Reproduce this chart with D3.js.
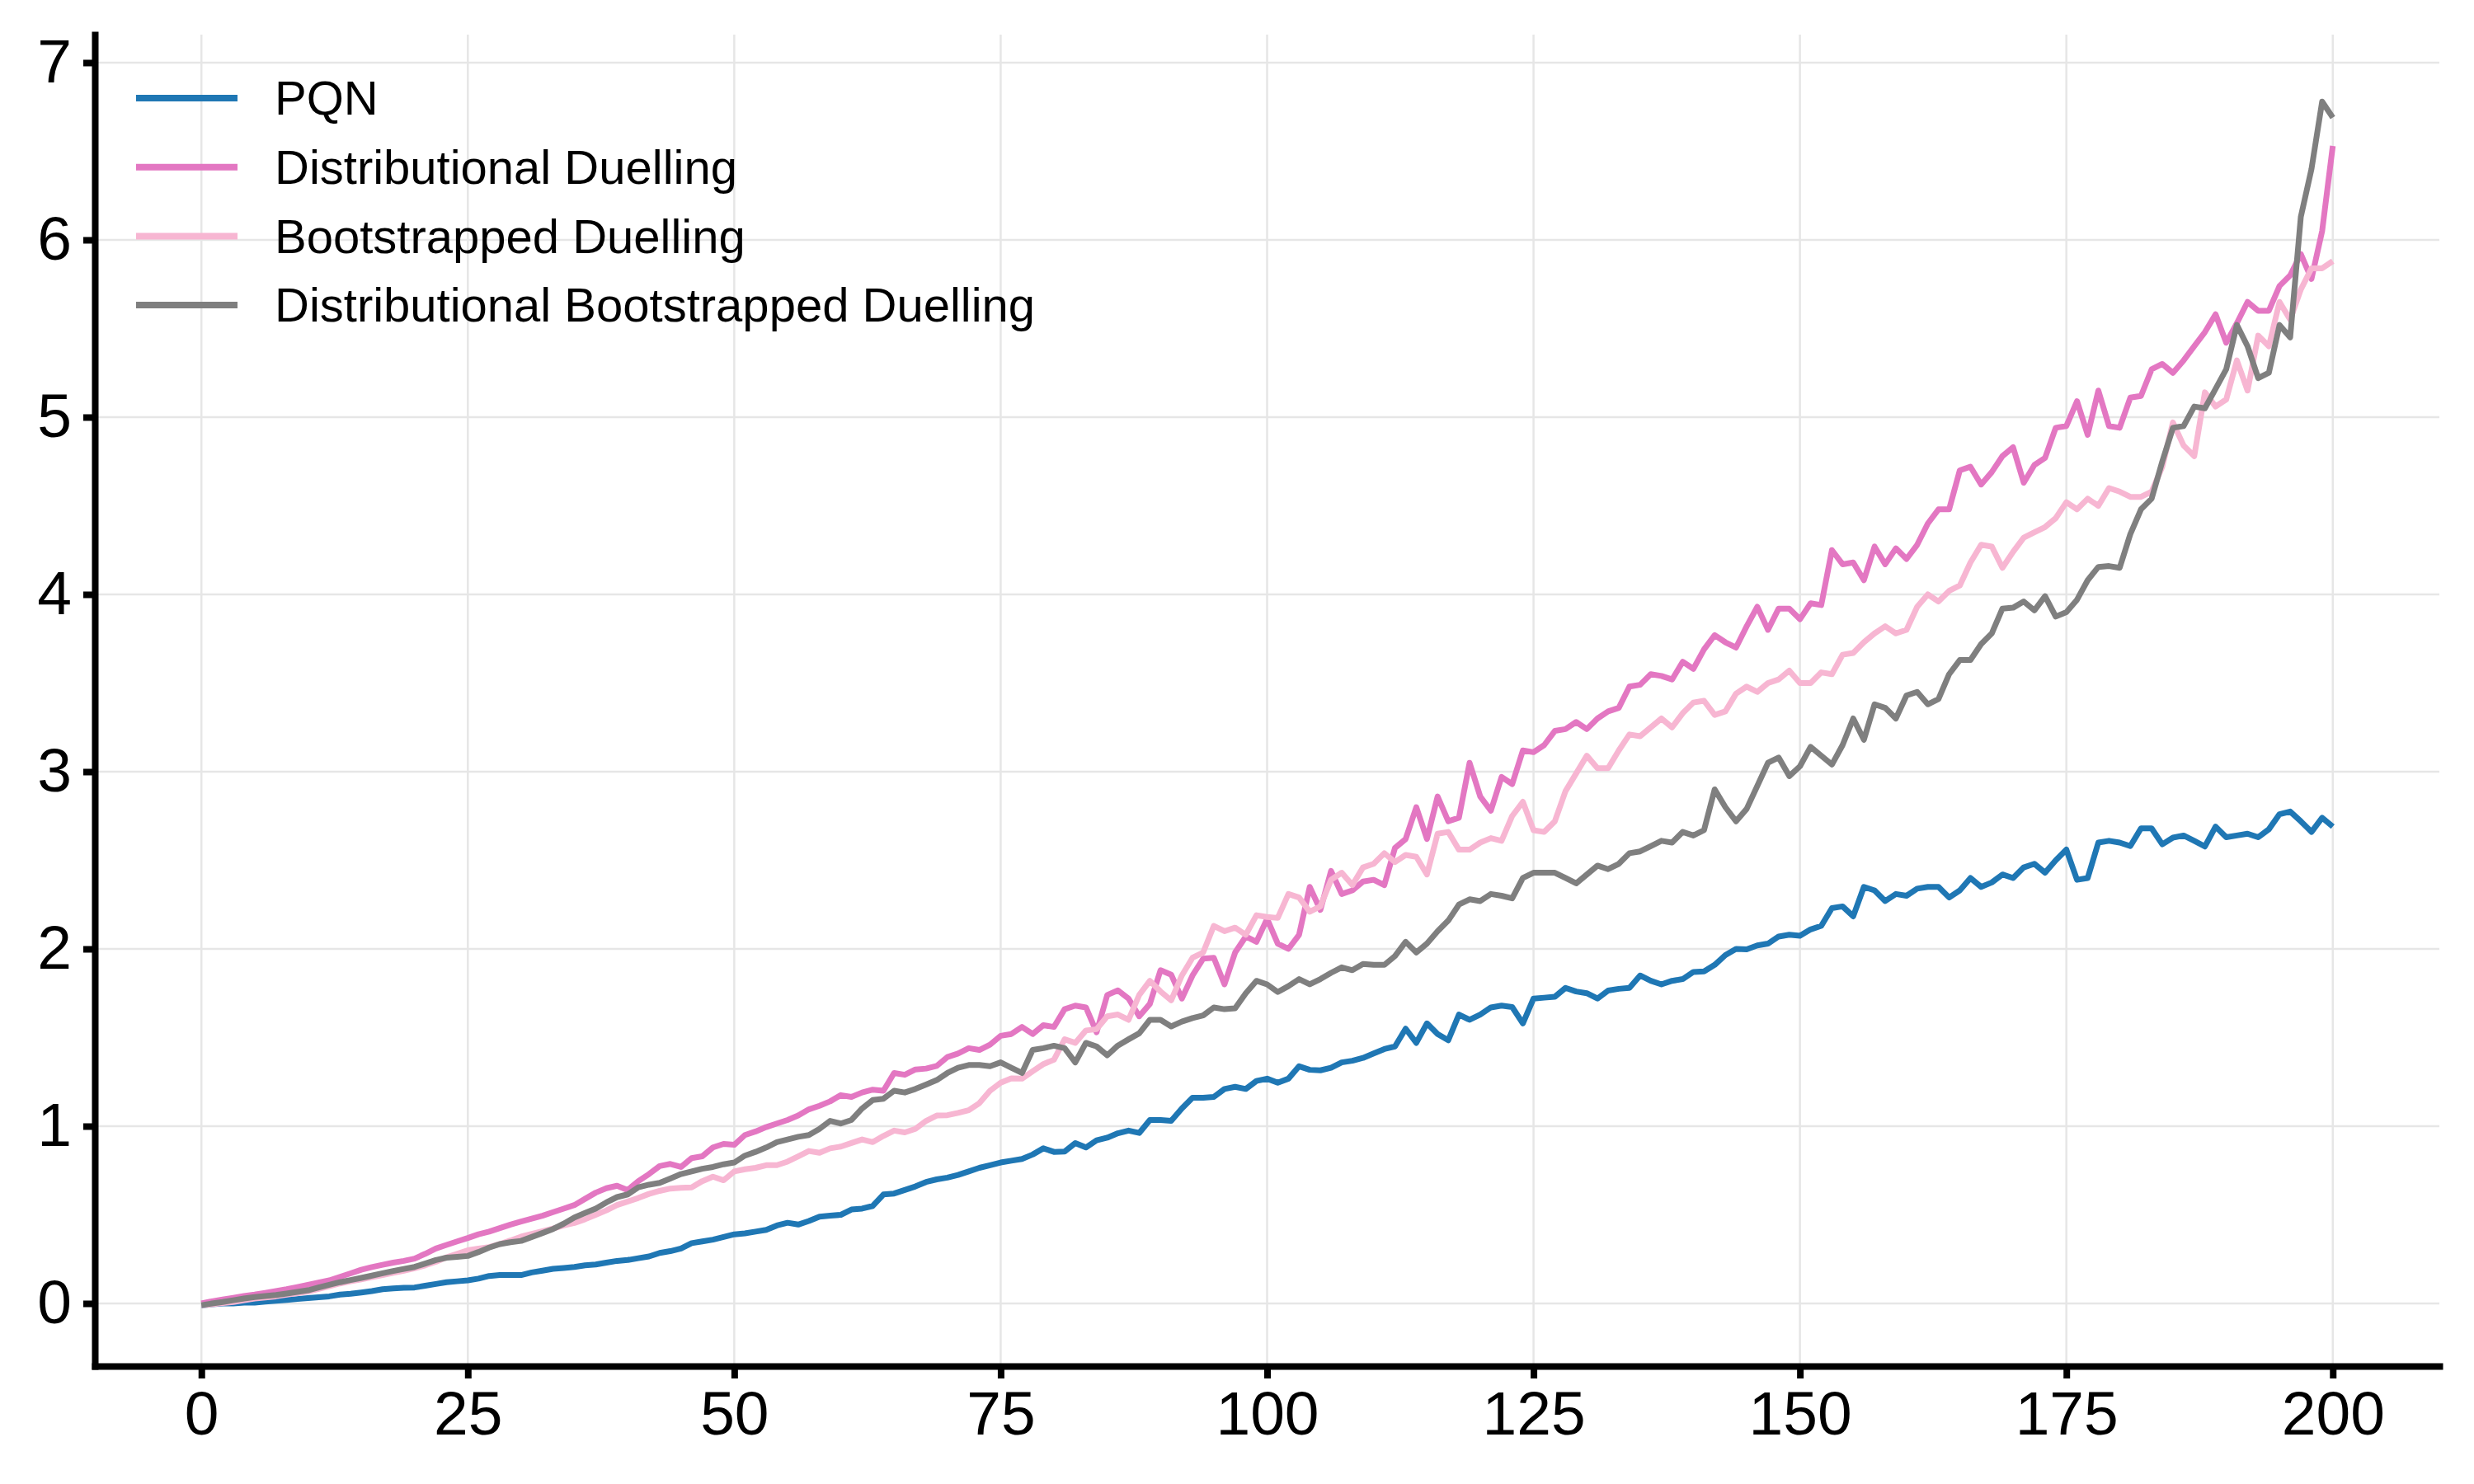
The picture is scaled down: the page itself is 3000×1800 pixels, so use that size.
<!DOCTYPE html>
<html>
<head>
<meta charset="utf-8">
<script src="https://cdn.jsdelivr.net/npm/d3@7"></script>
<style>
  body { margin: 0; background: #fff; }
  text { font-family: "Liberation Sans", Arial, sans-serif; }
</style>
</head>
<body>
<div id="chart"></div>
<script>
// x positions of the samples
const steps = d3.range(0, 201);

const pqn = [
  -0.01, -0.005, 0, 0, 0.005, 0.005, 0.01, 0.015, 0.02, 0.025,
  0.03, 0.035, 0.04, 0.05, 0.055, 0.062, 0.07, 0.08, 0.085, 0.088,
  0.09, 0.10, 0.11, 0.12, 0.125, 0.13, 0.14, 0.155, 0.16, 0.16,
  0.16, 0.175, 0.185, 0.195, 0.2, 0.206, 0.215, 0.22, 0.23, 0.24,
  0.245, 0.255, 0.265, 0.285, 0.295, 0.31, 0.34, 0.35, 0.36, 0.375,
  0.39, 0.395, 0.405, 0.415, 0.44, 0.455, 0.445, 0.465, 0.49, 0.495,
  0.50, 0.53, 0.535, 0.55, 0.615, 0.62, 0.64, 0.66, 0.685, 0.70,
  0.71, 0.725, 0.745, 0.765, 0.78, 0.795, 0.805, 0.815, 0.84, 0.875,
  0.855, 0.857, 0.905, 0.88, 0.92, 0.935, 0.96, 0.975, 0.962, 1.035,
  1.035, 1.03, 1.10, 1.16, 1.16, 1.165, 1.21, 1.222, 1.21, 1.255,
  1.268, 1.245, 1.268, 1.338, 1.318, 1.315, 1.33, 1.36, 1.369, 1.385,
  1.41, 1.435, 1.45, 1.55, 1.47, 1.58, 1.52, 1.485, 1.63, 1.60,
  1.63, 1.67, 1.68, 1.672, 1.58, 1.72, 1.725, 1.73, 1.78, 1.76,
  1.75, 1.72, 1.765, 1.775, 1.78, 1.85, 1.82, 1.80, 1.82, 1.83,
  1.87, 1.873, 1.91, 1.965, 2.0, 1.998, 2.02, 2.03, 2.07, 2.08,
  2.074, 2.11, 2.13, 2.23, 2.24, 2.184, 2.35, 2.33, 2.27, 2.31,
  2.30, 2.34, 2.35, 2.35, 2.29, 2.33, 2.40, 2.35, 2.375, 2.42,
  2.40, 2.46, 2.48, 2.43, 2.50, 2.56, 2.39, 2.40, 2.60, 2.61,
  2.60, 2.58, 2.68, 2.68, 2.59, 2.628, 2.64, 2.61, 2.578, 2.69,
  2.63, 2.64, 2.65, 2.63, 2.675, 2.76, 2.775, 2.72, 2.66, 2.74,
  2.69
];

const distDuelling = [
  0, 0.012, 0.022, 0.032, 0.042, 0.05, 0.06, 0.07, 0.08, 0.092,
  0.105, 0.118, 0.13, 0.15, 0.17, 0.19, 0.205, 0.218, 0.23, 0.24,
  0.253, 0.28, 0.31, 0.33, 0.35, 0.369, 0.39, 0.405, 0.425, 0.445,
  0.462, 0.478, 0.495, 0.515, 0.535, 0.555, 0.59, 0.625, 0.65, 0.664,
  0.64, 0.69, 0.73, 0.775, 0.787, 0.77, 0.82, 0.83, 0.88, 0.90,
  0.895, 0.95, 0.97, 0.995, 1.015, 1.035, 1.06, 1.095, 1.115, 1.14,
  1.175, 1.165, 1.19, 1.206, 1.20, 1.30, 1.29, 1.32, 1.325, 1.34,
  1.39, 1.41, 1.44, 1.43, 1.46, 1.51, 1.52, 1.56, 1.52, 1.57,
  1.56, 1.66, 1.68, 1.67, 1.53, 1.74, 1.766, 1.72, 1.62, 1.69,
  1.88, 1.855, 1.72, 1.85, 1.945, 1.95, 1.80, 1.98, 2.07, 2.04,
  2.17, 2.03, 2.00, 2.08, 2.35, 2.22, 2.44, 2.31, 2.33, 2.38,
  2.39, 2.36, 2.57, 2.62, 2.80, 2.62, 2.86, 2.72, 2.74, 3.05,
  2.86, 2.78, 2.97, 2.93, 3.12, 3.11, 3.15, 3.23, 3.24, 3.28,
  3.24, 3.30, 3.34, 3.36, 3.48, 3.49, 3.55, 3.54, 3.52, 3.62,
  3.58, 3.69, 3.77, 3.73, 3.70, 3.82, 3.93, 3.80, 3.92, 3.92,
  3.86, 3.95, 3.94, 4.25, 4.17, 4.18, 4.08, 4.27, 4.17, 4.26,
  4.20, 4.28, 4.40, 4.48, 4.48, 4.70, 4.72, 4.62, 4.69, 4.78,
  4.83, 4.63, 4.73, 4.77, 4.94, 4.95, 5.09, 4.90, 5.15, 4.95,
  4.94, 5.11, 5.12, 5.27, 5.30, 5.25, 5.32, 5.40, 5.48, 5.58,
  5.42, 5.53, 5.65, 5.60, 5.60, 5.74, 5.80, 5.92, 5.78, 6.05,
  6.53
];

const bootDuelling = [
  -0.01, -0.005, 0.002, 0.008, 0.018, 0.028, 0.034, 0.04, 0.05, 0.058,
  0.067, 0.082, 0.097, 0.113, 0.125, 0.136, 0.148, 0.16, 0.173, 0.185,
  0.198, 0.215, 0.235, 0.26, 0.28, 0.30, 0.31, 0.318, 0.335, 0.355,
  0.377, 0.392, 0.407, 0.423, 0.44, 0.454, 0.475, 0.50, 0.525, 0.555,
  0.575, 0.595, 0.618, 0.635, 0.648, 0.652, 0.655, 0.69, 0.715, 0.695,
  0.745, 0.757, 0.765, 0.78, 0.78, 0.80, 0.83, 0.86, 0.85, 0.875,
  0.885, 0.905, 0.925, 0.91, 0.945, 0.975, 0.965, 0.985, 1.03, 1.06,
  1.062, 1.075, 1.09, 1.13, 1.20, 1.245, 1.27, 1.268, 1.31, 1.35,
  1.375, 1.49, 1.47, 1.54, 1.547, 1.62, 1.63, 1.60, 1.74, 1.82,
  1.76, 1.71, 1.85, 1.95, 1.98, 2.13, 2.10, 2.12, 2.08, 2.19,
  2.18, 2.175, 2.31, 2.29, 2.21, 2.24, 2.39, 2.43, 2.36, 2.46,
  2.48, 2.54, 2.49, 2.53, 2.52, 2.42, 2.65, 2.66, 2.56, 2.56,
  2.60, 2.625, 2.61, 2.75, 2.83, 2.67, 2.66, 2.72, 2.89, 2.99,
  3.09, 3.02, 3.02, 3.12, 3.21, 3.20, 3.25, 3.30, 3.25, 3.33,
  3.39, 3.40, 3.32, 3.34, 3.44, 3.48, 3.45, 3.50, 3.52, 3.57,
  3.50, 3.50, 3.56, 3.55, 3.66, 3.67, 3.73, 3.78, 3.82, 3.78,
  3.80, 3.93, 4.00, 3.96, 4.02, 4.05, 4.18, 4.28, 4.27, 4.15,
  4.24, 4.32, 4.35, 4.38, 4.43, 4.52, 4.48, 4.54, 4.50, 4.60,
  4.58, 4.55, 4.55, 4.58, 4.72, 4.97, 4.84, 4.78, 5.14, 5.06,
  5.10, 5.32, 5.15, 5.46, 5.40, 5.65, 5.55, 5.72, 5.84, 5.84,
  5.88
];

const distBootDuelling = [
  -0.01, 0, 0.008, 0.018, 0.028, 0.036, 0.042, 0.048, 0.056, 0.065,
  0.074, 0.09, 0.105, 0.12, 0.132, 0.144, 0.157, 0.17, 0.183, 0.195,
  0.206, 0.225, 0.245, 0.258, 0.263, 0.268, 0.29, 0.315, 0.335, 0.345,
  0.353, 0.375, 0.397, 0.42, 0.45, 0.485, 0.51, 0.535, 0.57, 0.60,
  0.615, 0.655, 0.67, 0.68, 0.705, 0.73, 0.745, 0.76, 0.77, 0.785,
  0.795, 0.834, 0.855, 0.88, 0.91, 0.925, 0.94, 0.95, 0.985, 1.03,
  1.015, 1.035, 1.10, 1.148, 1.155, 1.20, 1.19, 1.21, 1.235, 1.26,
  1.30, 1.33, 1.345, 1.345, 1.338, 1.36, 1.33, 1.30, 1.43, 1.44,
  1.454, 1.44, 1.36, 1.47, 1.45, 1.40, 1.455, 1.49, 1.524, 1.60,
  1.60, 1.563, 1.59, 1.61, 1.625, 1.67, 1.66, 1.665, 1.75, 1.82,
  1.80, 1.757, 1.79, 1.83, 1.80, 1.83, 1.865, 1.896, 1.88, 1.915,
  1.91, 1.91, 1.96, 2.04, 1.98, 2.03, 2.10, 2.16, 2.25, 2.28,
  2.27, 2.31, 2.30, 2.285, 2.40, 2.43, 2.43, 2.43, 2.40, 2.37,
  2.42, 2.47, 2.45, 2.48, 2.54, 2.55, 2.58, 2.61, 2.60, 2.66,
  2.64, 2.67, 2.90, 2.80, 2.72, 2.79, 2.92, 3.05, 3.08, 2.975,
  3.03, 3.14, 3.09, 3.04, 3.15, 3.30, 3.18, 3.38, 3.36, 3.30,
  3.43, 3.45, 3.38, 3.41, 3.55, 3.63, 3.63, 3.72, 3.78, 3.92,
  3.925, 3.96, 3.91, 3.99, 3.875, 3.90, 3.97, 4.08, 4.155, 4.16,
  4.15, 4.34, 4.48, 4.54, 4.75, 4.94, 4.95, 5.06, 5.05, 5.16,
  5.27, 5.52, 5.40, 5.22, 5.25, 5.52, 5.45, 6.13, 6.40, 6.78,
  6.69
];

const seriesNames = ["PQN", "Distributional Duelling", "Bootstrapped Duelling", "Distributional Bootstrapped Duelling"];
const seriesValues = [pqn, distDuelling, bootDuelling, distBootDuelling];
const colours = ["#1f77b4", "#e377c2", "#f7b6d2", "#7f7f7f"];

const xTicks = [0, 25, 50, 75, 100, 125, 150, 175, 200];
const yTicks = [0, 1, 2, 3, 4, 5, 6, 7];

const width = 3000,
  height = 1800;
// plot box edges (spines)
const box = { left: 115, right: 2958, top: 42, bottom: 1657 };

const svg = d3.select("#chart")
  .append("svg")
  .attr("width", width)
  .attr("height", height)
  .style("background", "#fff");

const x = d3.scaleLinear().domain([-10, 210]).range([box.left, box.right]);
const y = d3.scaleLinear().domain([-0.3535, 7.158]).range([box.bottom, box.top]);

// grid
svg.append("g")
  .selectAll("line")
  .data(xTicks)
  .enter().append("line")
  .attr("x1", d => x(d)).attr("x2", d => x(d))
  .attr("y1", box.top).attr("y2", box.bottom)
  .attr("stroke", "#e6e6e6")
  .attr("stroke-width", 2.5);

svg.append("g")
  .selectAll("line")
  .data(yTicks)
  .enter().append("line")
  .attr("x1", box.left).attr("x2", box.right)
  .attr("y1", d => y(d)).attr("y2", d => y(d))
  .attr("stroke", "#e6e6e6")
  .attr("stroke-width", 2.5);

// lines
const line = d3.line()
  .x((d, i) => x(steps[i]))
  .y(d => y(d));

svg.append("g")
  .selectAll("path")
  .data(seriesValues)
  .enter().append("path")
  .attr("d", d => line(d))
  .attr("fill", "none")
  .attr("stroke", (d, i) => colours[i])
  .attr("stroke-width", 7)
  .attr("stroke-linejoin", "round");

// axes
const xAxis = svg.append("g")
  .attr("transform", "translate(0," + box.bottom + ")")
  .call(d3.axisBottom(x).tickValues(xTicks).tickSize(15).tickSizeOuter(0).tickPadding(15));

const yAxis = svg.append("g")
  .attr("transform", "translate(" + box.left + ",0)")
  .call(d3.axisLeft(y).tickValues(yTicks).tickSize(14).tickSizeOuter(0).tickPadding(14));

[xAxis, yAxis].forEach(function (ax) {
  ax.select(".domain")
    .attr("stroke", "#000")
    .attr("stroke-width", 8)
    .attr("stroke-linecap", "square");
  ax.selectAll(".tick line")
    .attr("stroke", "#000")
    .attr("stroke-width", 8);
  ax.selectAll(".tick text")
    .attr("fill", "#000")
    .style("font-size", "75px")
    .style("font-family", "'Liberation Sans', Arial, sans-serif");
});

// legend
const legend = svg.append("g")
  .selectAll("g")
  .data(seriesNames)
  .enter().append("g")
  .attr("transform", (d, i) => "translate(165," + (119 + i * 83.7) + ")");

legend.append("line")
  .attr("x1", 0).attr("x2", 123)
  .attr("y1", 0).attr("y2", 0)
  .attr("stroke", (d, i) => colours[i])
  .attr("stroke-width", 8);

legend.append("text")
  .attr("x", 168)
  .attr("y", 0)
  .attr("dy", "0.35em")
  .style("font-size", "58px")
  .attr("fill", "#000")
  .text(d => d);
</script>
</body>
</html>
